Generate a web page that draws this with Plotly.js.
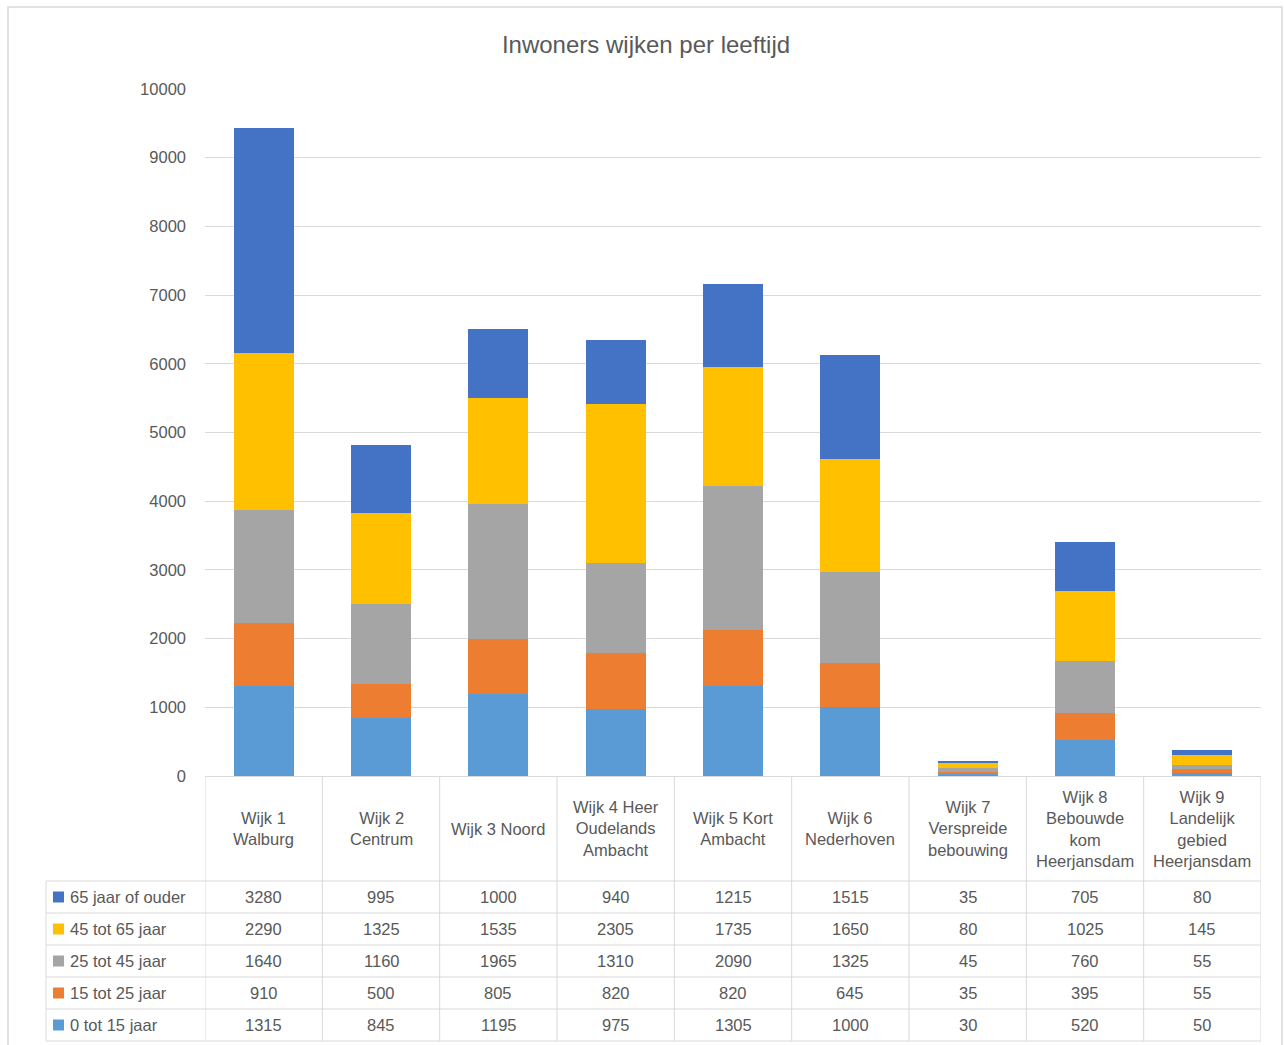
<!DOCTYPE html>
<html>
<head>
<meta charset="utf-8">
<script src="https://cdn.plot.ly/plotly-3.0.1.min.js"></script>
<style>
html,body{margin:0;padding:0;background:#fff;}
#chart{width:1285px;height:1045px;}
</style>
</head>
<body>
<div id="chart"></div>
<script>
const categories = [
  "Wijk 1<br>Walburg",
  "Wijk 2<br>Centrum",
  "Wijk 3 Noord",
  "Wijk 4 Heer<br>Oudelands<br>Ambacht",
  "Wijk 5 Kort<br>Ambacht",
  "Wijk 6<br>Nederhoven",
  "Wijk 7<br>Verspreide<br>bebouwing",
  "Wijk 8<br>Bebouwde<br>kom<br>Heerjansdam",
  "Wijk 9<br>Landelijk<br>gebied<br>Heerjansdam"
];
const age0to15   = [1315, 845, 1195, 975, 1305, 1000, 30, 520, 50];
const age15to25  = [910, 500, 805, 820, 820, 645, 35, 395, 55];
const age25to45  = [1640, 1160, 1965, 1310, 2090, 1325, 45, 760, 55];
const age45to65  = [2290, 1325, 1535, 2305, 1735, 1650, 80, 1025, 145];
const age65plus  = [3280, 995, 1000, 940, 1215, 1515, 35, 705, 80];
const seriesNames = ["0 tot 15 jaar", "15 tot 25 jaar", "25 tot 45 jaar", "45 tot 65 jaar", "65 jaar of ouder"];
const seriesColors = ["#5B9BD5", "#ED7D31", "#A5A5A5", "#FFC000", "#4472C4"];
const seriesValues = [age0to15, age15to25, age25to45, age45to65, age65plus];
const yTicks = [0, 1000, 2000, 3000, 4000, 5000, 6000, 7000, 8000, 9000, 10000];

const W = 1285, H = 1045;
const L = 205, R = 1261, T = 89, B = 776;
const PW = R - L, PH = B - T;
const px = x => (x - L) / PW;
const py = y => (B - y) / PH;

const xIdx = categories.map((c, i) => i);

const traces = seriesValues.map((vals, s) => ({
  type: "bar",
  name: seriesNames[s],
  x: xIdx,
  y: vals,
  marker: {color: seriesColors[s]},
  hoverinfo: "y+name"
}));

const gridCol = "#d9d9d9";
const txtCol = "#595959";
const shapes = [];
const annotations = [];

// outer chart frame
shapes.push({type: "rect", xref: "paper", yref: "paper",
  x0: px(8), x1: px(1282), y0: py(1060), y1: py(7),
  line: {color: "#d9d9d9", width: 1.5}, fillcolor: "rgba(0,0,0,0)", layer: "below"});

// table: rows (top to bottom order in table)
const tableRowsOrder = [4, 3, 2, 1, 0];
const headerTop = 776, headerBottom = 881, rowH = 32;
const tableBottom = headerBottom + rowH * 5;

// vertical lines at category boundaries
for (let i = 0; i <= categories.length; i++) {
  shapes.push({type: "line", xref: "x", yref: "paper",
    x0: i - 0.5, x1: i - 0.5, y0: py(headerTop), y1: py(tableBottom),
    line: {color: gridCol, width: 1}});
}
// left border of legend column
shapes.push({type: "line", xref: "paper", yref: "paper",
  x0: px(46), x1: px(46), y0: py(headerBottom), y1: py(tableBottom),
  line: {color: gridCol, width: 1}});
// horizontal lines
for (let r = 0; r <= 5; r++) {
  const yy = headerBottom + r * rowH;
  shapes.push({type: "line", xref: "paper", yref: "paper",
    x0: px(46), x1: px(R), y0: py(yy), y1: py(yy),
    line: {color: gridCol, width: 1}});
}

// header labels
categories.forEach((c, i) => {
  annotations.push({xref: "x", yref: "paper", x: i, y: py((headerTop + headerBottom) / 2),
    text: c, showarrow: false, xanchor: "center", yanchor: "middle",
    font: {size: 16.5, color: txtCol}, align: "center"});
});

// rows
tableRowsOrder.forEach((s, r) => {
  const yc = headerBottom + r * rowH + rowH / 2;
  shapes.push({type: "rect", xref: "paper", yref: "paper",
    x0: px(53), x1: px(64), y0: py(yc + 5.5), y1: py(yc - 5.5),
    fillcolor: seriesColors[s], line: {width: 0}});
  annotations.push({xref: "paper", yref: "paper", x: px(68), y: py(yc),
    text: seriesNames[s], showarrow: false, xanchor: "left", yanchor: "middle",
    font: {size: 16.5, color: txtCol}});
  seriesValues[s].forEach((v, i) => {
    annotations.push({xref: "x", yref: "paper", x: i, y: py(yc),
      text: String(v), showarrow: false, xanchor: "center", yanchor: "middle",
      font: {size: 16.5, color: txtCol}});
  });
});

const layout = {
  width: W, height: H,
  margin: {l: L, r: W - R, t: T, b: H - B, pad: 0},
  paper_bgcolor: "#ffffff",
  plot_bgcolor: "#ffffff",
  barmode: "stack",
  bargap: 0.49,
  showlegend: false,
  font: {family: "'Liberation Sans', Arial, sans-serif", color: txtCol},
  title: {text: "Inwoners wijken per leeftijd", x: 646 / W, xref: "container", xanchor: "center",
    y: 1 - 45 / H, yref: "container", yanchor: "middle",
    font: {size: 24, color: txtCol, family: "'Liberation Sans', Arial, sans-serif"}},
  xaxis: {
    range: [-0.5, categories.length - 0.5],
    showticklabels: false, showgrid: false, zeroline: false,
    showline: true, linecolor: gridCol, linewidth: 1, ticks: "", fixedrange: true
  },
  yaxis: {
    range: [0, 10000], tickvals: yTicks, ticktext: yTicks.map(String),
    showgrid: true, gridcolor: gridCol, gridwidth: 1, zeroline: false,
    showline: false, ticks: "", ticklabelstandoff: 18,
    tickfont: {size: 16.5, color: txtCol}, fixedrange: true
  },
  shapes: shapes,
  annotations: annotations
};

Plotly.newPlot("chart", traces, layout, {displayModeBar: false, staticPlot: true});
</script>
</body>
</html>
